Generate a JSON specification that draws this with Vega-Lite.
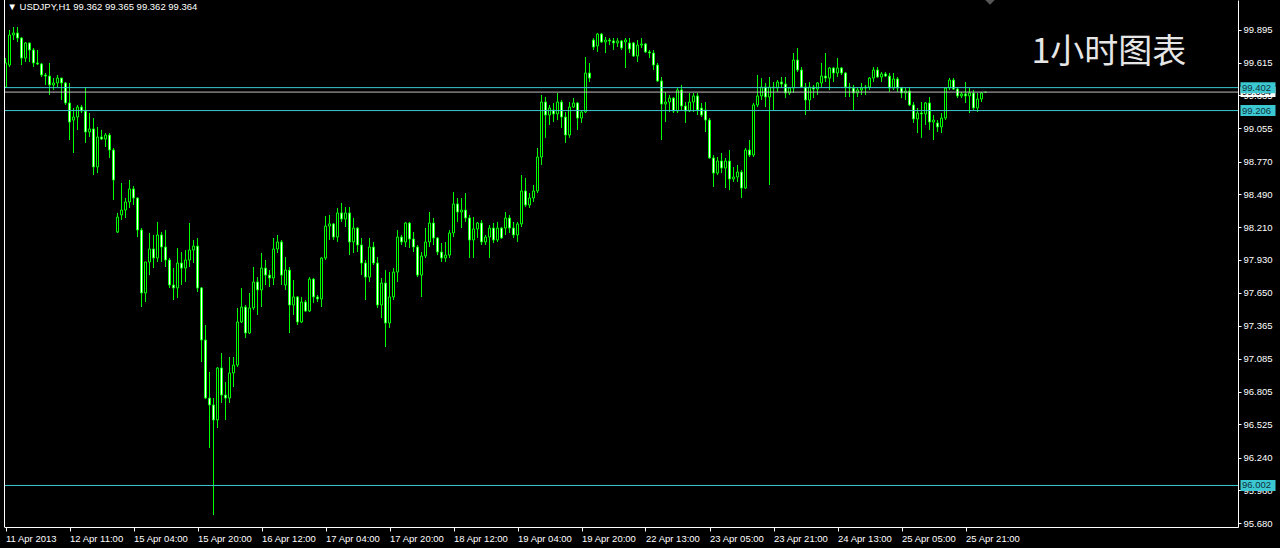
{
  "$schema": "https://vega.github.io/schema/vega-lite/v6.json",
  "width": 1234,
  "height": 527,
  "autosize": {"type": "none"},
  "padding": {"left": 4, "top": 0, "right": 42, "bottom": 21},
  "background": "#000000",
  "config": {"view": {"stroke": null}, "font": "Liberation Sans", "axis": {"labelOverlap": false}, "scale": {"continuousPadding": 0}},
  "datasets": {
    "candles": [
      {"i":0,"o":99.407,"h":99.655,"l":99.399,"c":99.613},
      {"i":1,"o":99.595,"h":99.895,"l":99.578,"c":99.852},
      {"i":2,"o":99.852,"h":99.920,"l":99.809,"c":99.869},
      {"i":3,"o":99.869,"h":99.920,"l":99.792,"c":99.826},
      {"i":4,"o":99.826,"h":99.835,"l":99.595,"c":99.655},
      {"i":5,"o":99.655,"h":99.792,"l":99.621,"c":99.784},
      {"i":6,"o":99.784,"h":99.784,"l":99.621,"c":99.724},
      {"i":7,"o":99.724,"h":99.741,"l":99.578,"c":99.613},
      {"i":8,"o":99.613,"h":99.724,"l":99.595,"c":99.604},
      {"i":9,"o":99.604,"h":99.613,"l":99.493,"c":99.510},
      {"i":10,"o":99.510,"h":99.527,"l":99.425,"c":99.501},
      {"i":11,"o":99.501,"h":99.613,"l":99.339,"c":99.425},
      {"i":12,"o":99.425,"h":99.484,"l":99.382,"c":99.442},
      {"i":13,"o":99.442,"h":99.510,"l":99.407,"c":99.484},
      {"i":14,"o":99.484,"h":99.484,"l":99.297,"c":99.442},
      {"i":15,"o":99.442,"h":99.450,"l":99.254,"c":99.271},
      {"i":16,"o":99.271,"h":99.442,"l":98.954,"c":99.108},
      {"i":17,"o":99.125,"h":99.228,"l":98.843,"c":99.151},
      {"i":18,"o":99.151,"h":99.254,"l":99.040,"c":99.236},
      {"i":19,"o":99.236,"h":99.254,"l":99.185,"c":99.202},
      {"i":20,"o":99.202,"h":99.407,"l":98.929,"c":99.023},
      {"i":21,"o":99.023,"h":99.185,"l":98.980,"c":99.049},
      {"i":22,"o":99.049,"h":99.142,"l":98.655,"c":98.724},
      {"i":23,"o":98.724,"h":99.066,"l":98.672,"c":98.980},
      {"i":24,"o":98.980,"h":99.040,"l":98.954,"c":98.963},
      {"i":25,"o":98.963,"h":99.014,"l":98.895,"c":98.997},
      {"i":26,"o":98.997,"h":99.014,"l":98.801,"c":98.869},
      {"i":27,"o":98.869,"h":98.886,"l":98.442,"c":98.613},
      {"i":28,"o":98.168,"h":98.331,"l":98.160,"c":98.296},
      {"i":29,"o":98.314,"h":98.587,"l":98.271,"c":98.356},
      {"i":30,"o":98.356,"h":98.459,"l":98.288,"c":98.425},
      {"i":31,"o":98.425,"h":98.613,"l":98.373,"c":98.536},
      {"i":32,"o":98.536,"h":98.561,"l":98.399,"c":98.459},
      {"i":33,"o":98.459,"h":98.465,"l":98.125,"c":98.185},
      {"i":34,"o":98.185,"h":98.202,"l":97.527,"c":97.647},
      {"i":35,"o":97.647,"h":97.912,"l":97.570,"c":97.912},
      {"i":36,"o":97.912,"h":98.160,"l":97.800,"c":98.023},
      {"i":37,"o":98.023,"h":98.143,"l":97.860,"c":97.946},
      {"i":38,"o":97.946,"h":98.254,"l":97.912,"c":98.143},
      {"i":39,"o":98.143,"h":98.168,"l":97.912,"c":98.040},
      {"i":40,"o":98.040,"h":98.185,"l":97.869,"c":97.929},
      {"i":41,"o":97.929,"h":97.946,"l":97.690,"c":97.715},
      {"i":42,"o":97.715,"h":97.860,"l":97.587,"c":97.690},
      {"i":43,"o":97.690,"h":98.031,"l":97.604,"c":97.903},
      {"i":44,"o":97.903,"h":97.997,"l":97.715,"c":97.860},
      {"i":45,"o":97.860,"h":98.014,"l":97.741,"c":97.929},
      {"i":46,"o":97.929,"h":98.245,"l":97.869,"c":98.014},
      {"i":47,"o":98.014,"h":98.100,"l":97.903,"c":98.048},
      {"i":48,"o":98.048,"h":98.117,"l":97.655,"c":97.690},
      {"i":49,"o":97.690,"h":97.698,"l":97.057,"c":97.245},
      {"i":50,"o":97.245,"h":97.373,"l":96.740,"c":96.749},
      {"i":51,"o":96.749,"h":96.972,"l":96.322,"c":96.690},
      {"i":52,"o":96.690,"h":96.749,"l":95.749,"c":96.562},
      {"i":53,"o":96.562,"h":97.014,"l":96.493,"c":97.006},
      {"i":54,"o":97.006,"h":97.134,"l":96.707,"c":96.775},
      {"i":55,"o":96.775,"h":96.886,"l":96.562,"c":96.749},
      {"i":56,"o":96.749,"h":97.100,"l":96.707,"c":96.963},
      {"i":57,"o":96.963,"h":97.100,"l":96.843,"c":97.031},
      {"i":58,"o":97.031,"h":97.519,"l":97.014,"c":97.399},
      {"i":59,"o":97.399,"h":97.690,"l":97.390,"c":97.527},
      {"i":60,"o":97.527,"h":97.544,"l":97.262,"c":97.305},
      {"i":61,"o":97.305,"h":97.647,"l":97.296,"c":97.519},
      {"i":62,"o":97.519,"h":97.869,"l":97.502,"c":97.741},
      {"i":63,"o":97.741,"h":97.783,"l":97.459,"c":97.673},
      {"i":64,"o":97.673,"h":97.989,"l":97.527,"c":97.860},
      {"i":65,"o":97.860,"h":97.929,"l":97.715,"c":97.800},
      {"i":66,"o":97.800,"h":97.843,"l":97.698,"c":97.775},
      {"i":67,"o":97.775,"h":98.117,"l":97.715,"c":98.023},
      {"i":68,"o":98.023,"h":98.143,"l":97.989,"c":98.083},
      {"i":69,"o":98.083,"h":98.100,"l":97.715,"c":97.800},
      {"i":70,"o":97.715,"h":97.954,"l":97.673,"c":97.843},
      {"i":71,"o":97.843,"h":97.869,"l":97.305,"c":97.544},
      {"i":72,"o":97.544,"h":97.758,"l":97.459,"c":97.613},
      {"i":73,"o":97.613,"h":97.620,"l":97.373,"c":97.399},
      {"i":74,"o":97.399,"h":97.613,"l":97.390,"c":97.570},
      {"i":75,"o":97.570,"h":97.587,"l":97.484,"c":97.493},
      {"i":76,"o":97.493,"h":97.783,"l":97.484,"c":97.766},
      {"i":77,"o":97.766,"h":97.775,"l":97.561,"c":97.613},
      {"i":78,"o":97.613,"h":97.630,"l":97.570,"c":97.596},
      {"i":79,"o":97.596,"h":97.954,"l":97.527,"c":97.946},
      {"i":80,"o":97.946,"h":98.305,"l":97.929,"c":98.219},
      {"i":81,"o":98.219,"h":98.314,"l":98.100,"c":98.237},
      {"i":82,"o":98.237,"h":98.245,"l":98.100,"c":98.125},
      {"i":83,"o":98.125,"h":98.373,"l":98.083,"c":98.331},
      {"i":84,"o":98.331,"h":98.416,"l":98.254,"c":98.279},
      {"i":85,"o":98.279,"h":98.382,"l":98.211,"c":98.331},
      {"i":86,"o":98.331,"h":98.382,"l":97.971,"c":98.083},
      {"i":87,"o":98.083,"h":98.288,"l":97.989,"c":98.202},
      {"i":88,"o":98.202,"h":98.211,"l":97.997,"c":98.057},
      {"i":89,"o":98.057,"h":98.117,"l":97.800,"c":97.903},
      {"i":90,"o":97.903,"h":97.929,"l":97.587,"c":97.783},
      {"i":91,"o":97.783,"h":98.117,"l":97.741,"c":98.040},
      {"i":92,"o":98.040,"h":98.083,"l":97.886,"c":97.903},
      {"i":93,"o":97.903,"h":97.954,"l":97.519,"c":97.544},
      {"i":94,"o":97.544,"h":97.775,"l":97.433,"c":97.732},
      {"i":95,"o":97.732,"h":97.843,"l":97.185,"c":97.390},
      {"i":96,"o":97.390,"h":97.826,"l":97.348,"c":97.613},
      {"i":97,"o":97.613,"h":97.860,"l":97.587,"c":97.826},
      {"i":98,"o":97.826,"h":98.185,"l":97.741,"c":98.125},
      {"i":99,"o":98.125,"h":98.143,"l":98.057,"c":98.083},
      {"i":100,"o":98.083,"h":98.254,"l":98.040,"c":98.245},
      {"i":101,"o":98.245,"h":98.254,"l":98.031,"c":98.108},
      {"i":102,"o":98.108,"h":98.168,"l":97.997,"c":98.040},
      {"i":103,"o":98.040,"h":98.057,"l":97.783,"c":97.800},
      {"i":104,"o":97.800,"h":97.997,"l":97.613,"c":97.963},
      {"i":105,"o":97.963,"h":98.202,"l":97.946,"c":98.083},
      {"i":106,"o":98.083,"h":98.339,"l":98.040,"c":98.245},
      {"i":107,"o":98.245,"h":98.288,"l":98.057,"c":98.117},
      {"i":108,"o":98.117,"h":98.125,"l":97.971,"c":97.997},
      {"i":109,"o":97.997,"h":98.074,"l":97.912,"c":97.946},
      {"i":110,"o":97.946,"h":98.083,"l":97.912,"c":97.971},
      {"i":111,"o":97.971,"h":98.185,"l":97.946,"c":98.160},
      {"i":112,"o":98.160,"h":98.510,"l":98.125,"c":98.408},
      {"i":113,"o":98.408,"h":98.459,"l":98.254,"c":98.339},
      {"i":114,"o":98.339,"h":98.459,"l":98.202,"c":98.356},
      {"i":115,"o":98.356,"h":98.501,"l":98.254,"c":98.288},
      {"i":116,"o":98.288,"h":98.314,"l":97.946,"c":98.100},
      {"i":117,"o":98.100,"h":98.296,"l":97.946,"c":98.194},
      {"i":118,"o":98.194,"h":98.254,"l":98.117,"c":98.245},
      {"i":119,"o":98.245,"h":98.271,"l":98.057,"c":98.083},
      {"i":120,"o":98.083,"h":98.143,"l":98.057,"c":98.125},
      {"i":121,"o":98.125,"h":98.228,"l":97.946,"c":98.202},
      {"i":122,"o":98.202,"h":98.245,"l":98.074,"c":98.100},
      {"i":123,"o":98.100,"h":98.254,"l":98.083,"c":98.202},
      {"i":124,"o":98.202,"h":98.211,"l":98.110,"c":98.117},
      {"i":125,"o":98.202,"h":98.339,"l":98.143,"c":98.288},
      {"i":126,"o":98.288,"h":98.314,"l":98.160,"c":98.202},
      {"i":127,"o":98.202,"h":98.254,"l":98.117,"c":98.143},
      {"i":128,"o":98.143,"h":98.254,"l":98.083,"c":98.237},
      {"i":129,"o":98.237,"h":98.655,"l":98.211,"c":98.519},
      {"i":130,"o":98.519,"h":98.630,"l":98.382,"c":98.399},
      {"i":131,"o":98.399,"h":98.501,"l":98.373,"c":98.459},
      {"i":132,"o":98.459,"h":98.570,"l":98.425,"c":98.519},
      {"i":133,"o":98.519,"h":98.886,"l":98.501,"c":98.809},
      {"i":134,"o":98.809,"h":99.339,"l":98.741,"c":99.279},
      {"i":135,"o":99.279,"h":99.322,"l":98.972,"c":99.168},
      {"i":136,"o":99.168,"h":99.254,"l":99.083,"c":99.228},
      {"i":137,"o":99.211,"h":99.271,"l":99.108,"c":99.177},
      {"i":138,"o":99.177,"h":99.356,"l":99.125,"c":99.279},
      {"i":139,"o":99.279,"h":99.297,"l":99.057,"c":99.151},
      {"i":140,"o":99.151,"h":99.194,"l":98.929,"c":98.997},
      {"i":141,"o":98.997,"h":99.279,"l":98.972,"c":99.236},
      {"i":142,"o":99.236,"h":99.313,"l":99.228,"c":99.271},
      {"i":143,"o":99.271,"h":99.279,"l":99.040,"c":99.142},
      {"i":144,"o":99.142,"h":99.211,"l":99.100,"c":99.194},
      {"i":145,"o":99.194,"h":99.664,"l":99.185,"c":99.527},
      {"i":146,"o":99.527,"h":99.613,"l":99.450,"c":99.484},
      {"i":147,"o":99.809,"h":99.826,"l":99.724,"c":99.749},
      {"i":148,"o":99.758,"h":99.869,"l":99.707,"c":99.860},
      {"i":149,"o":99.860,"h":99.869,"l":99.784,"c":99.792},
      {"i":150,"o":99.792,"h":99.835,"l":99.698,"c":99.809},
      {"i":151,"o":99.809,"h":99.826,"l":99.766,"c":99.801},
      {"i":152,"o":99.801,"h":99.826,"l":99.724,"c":99.784},
      {"i":153,"o":99.784,"h":99.826,"l":99.749,"c":99.801},
      {"i":154,"o":99.801,"h":99.809,"l":99.724,"c":99.741},
      {"i":155,"o":99.792,"h":99.826,"l":99.570,"c":99.809},
      {"i":156,"o":99.784,"h":99.826,"l":99.698,"c":99.732},
      {"i":157,"o":99.784,"h":99.792,"l":99.664,"c":99.672},
      {"i":158,"o":99.672,"h":99.809,"l":99.621,"c":99.766},
      {"i":159,"o":99.766,"h":99.826,"l":99.741,"c":99.775},
      {"i":160,"o":99.775,"h":99.784,"l":99.698,"c":99.707},
      {"i":161,"o":99.707,"h":99.724,"l":99.655,"c":99.698},
      {"i":162,"o":99.698,"h":99.724,"l":99.553,"c":99.595},
      {"i":163,"o":99.595,"h":99.613,"l":99.450,"c":99.459},
      {"i":164,"o":99.459,"h":99.493,"l":98.954,"c":99.262},
      {"i":165,"o":99.262,"h":99.365,"l":99.108,"c":99.279},
      {"i":166,"o":99.279,"h":99.339,"l":99.194,"c":99.313},
      {"i":167,"o":99.313,"h":99.322,"l":99.185,"c":99.202},
      {"i":168,"o":99.202,"h":99.399,"l":99.185,"c":99.382},
      {"i":169,"o":99.382,"h":99.425,"l":99.211,"c":99.245},
      {"i":170,"o":99.245,"h":99.279,"l":99.100,"c":99.202},
      {"i":171,"o":99.202,"h":99.356,"l":99.194,"c":99.279},
      {"i":172,"o":99.279,"h":99.356,"l":99.194,"c":99.331},
      {"i":173,"o":99.331,"h":99.356,"l":99.168,"c":99.211},
      {"i":174,"o":99.228,"h":99.271,"l":99.151,"c":99.168},
      {"i":175,"o":99.211,"h":99.279,"l":99.023,"c":99.125},
      {"i":176,"o":99.125,"h":99.142,"l":98.795,"c":98.801},
      {"i":177,"o":98.801,"h":98.826,"l":98.553,"c":98.672},
      {"i":178,"o":98.672,"h":98.809,"l":98.655,"c":98.775},
      {"i":179,"o":98.775,"h":98.843,"l":98.672,"c":98.715},
      {"i":180,"o":98.715,"h":98.801,"l":98.544,"c":98.775},
      {"i":181,"o":98.775,"h":98.869,"l":98.527,"c":98.621},
      {"i":182,"o":98.621,"h":98.724,"l":98.596,"c":98.638},
      {"i":183,"o":98.638,"h":98.741,"l":98.596,"c":98.681},
      {"i":184,"o":98.681,"h":98.698,"l":98.459,"c":98.544},
      {"i":185,"o":98.544,"h":98.886,"l":98.536,"c":98.869},
      {"i":186,"o":98.869,"h":98.954,"l":98.809,"c":98.826},
      {"i":187,"o":98.826,"h":99.271,"l":98.809,"c":99.254},
      {"i":188,"o":99.254,"h":99.510,"l":99.236,"c":99.331},
      {"i":189,"o":99.331,"h":99.484,"l":99.297,"c":99.407},
      {"i":190,"o":99.407,"h":99.442,"l":99.236,"c":99.322},
      {"i":191,"o":99.322,"h":99.493,"l":98.570,"c":99.407},
      {"i":192,"o":99.407,"h":99.450,"l":99.211,"c":99.399},
      {"i":193,"o":99.399,"h":99.467,"l":99.365,"c":99.450},
      {"i":194,"o":99.450,"h":99.493,"l":99.399,"c":99.433},
      {"i":195,"o":99.433,"h":99.493,"l":99.313,"c":99.356},
      {"i":196,"o":99.356,"h":99.407,"l":99.339,"c":99.399},
      {"i":197,"o":99.399,"h":99.698,"l":99.356,"c":99.638},
      {"i":198,"o":99.638,"h":99.741,"l":99.536,"c":99.553},
      {"i":199,"o":99.553,"h":99.578,"l":99.399,"c":99.407},
      {"i":200,"o":99.407,"h":99.442,"l":99.168,"c":99.297},
      {"i":201,"o":99.297,"h":99.450,"l":99.211,"c":99.407},
      {"i":202,"o":99.407,"h":99.425,"l":99.313,"c":99.390},
      {"i":203,"o":99.390,"h":99.450,"l":99.339,"c":99.442},
      {"i":204,"o":99.442,"h":99.613,"l":99.407,"c":99.501},
      {"i":205,"o":99.501,"h":99.698,"l":99.450,"c":99.484},
      {"i":206,"o":99.484,"h":99.578,"l":99.382,"c":99.570},
      {"i":207,"o":99.570,"h":99.578,"l":99.450,"c":99.527},
      {"i":208,"o":99.527,"h":99.655,"l":99.493,"c":99.570},
      {"i":209,"o":99.570,"h":99.578,"l":99.510,"c":99.527},
      {"i":210,"o":99.527,"h":99.536,"l":99.322,"c":99.407},
      {"i":211,"o":99.407,"h":99.442,"l":99.322,"c":99.399},
      {"i":212,"o":99.399,"h":99.425,"l":99.211,"c":99.356},
      {"i":213,"o":99.356,"h":99.407,"l":99.322,"c":99.382},
      {"i":214,"o":99.382,"h":99.442,"l":99.339,"c":99.399},
      {"i":215,"o":99.399,"h":99.425,"l":99.339,"c":99.407},
      {"i":216,"o":99.407,"h":99.493,"l":99.382,"c":99.484},
      {"i":217,"o":99.484,"h":99.578,"l":99.450,"c":99.553},
      {"i":218,"o":99.553,"h":99.578,"l":99.484,"c":99.493},
      {"i":219,"o":99.493,"h":99.536,"l":99.450,"c":99.519},
      {"i":220,"o":99.519,"h":99.536,"l":99.493,"c":99.501},
      {"i":221,"o":99.501,"h":99.527,"l":99.365,"c":99.399},
      {"i":222,"o":99.399,"h":99.527,"l":99.382,"c":99.476},
      {"i":223,"o":99.476,"h":99.493,"l":99.365,"c":99.399},
      {"i":224,"o":99.399,"h":99.407,"l":99.313,"c":99.356},
      {"i":225,"o":99.356,"h":99.399,"l":99.297,"c":99.373},
      {"i":226,"o":99.373,"h":99.407,"l":99.245,"c":99.254},
      {"i":227,"o":99.254,"h":99.279,"l":99.100,"c":99.134},
      {"i":228,"o":99.134,"h":99.228,"l":99.014,"c":99.185},
      {"i":229,"o":99.185,"h":99.279,"l":98.972,"c":99.177},
      {"i":230,"o":99.177,"h":99.279,"l":99.083,"c":99.271},
      {"i":231,"o":99.271,"h":99.322,"l":99.040,"c":99.108},
      {"i":232,"o":99.108,"h":99.168,"l":98.954,"c":99.125},
      {"i":233,"o":99.100,"h":99.125,"l":99.023,"c":99.066},
      {"i":234,"o":99.066,"h":99.185,"l":99.014,"c":99.142},
      {"i":235,"o":99.142,"h":99.405,"l":99.125,"c":99.399},
      {"i":236,"o":99.399,"h":99.484,"l":99.382,"c":99.467},
      {"i":237,"o":99.467,"h":99.484,"l":99.382,"c":99.390},
      {"i":238,"o":99.390,"h":99.407,"l":99.313,"c":99.331},
      {"i":239,"o":99.331,"h":99.365,"l":99.313,"c":99.348},
      {"i":240,"o":99.348,"h":99.450,"l":99.271,"c":99.331},
      {"i":241,"o":99.331,"h":99.399,"l":99.185,"c":99.356},
      {"i":242,"o":99.356,"h":99.382,"l":99.211,"c":99.228},
      {"i":243,"o":99.228,"h":99.356,"l":99.194,"c":99.305},
      {"i":244,"o":99.305,"h":99.365,"l":99.279,"c":99.356},
      {"i":245,"o":99.362,"h":99.365,"l":99.362,"c":99.364}
    ],
    "levels": [{"p": 99.402}, {"p": 99.206}, {"p": 96.002}],
    "bid": [{"p": 99.364}],
    "header": [{"t": "▼ USDJPY,H1  99.362 99.365 99.362 99.364"}],
    "note": [{"t": "1小时图表"}]
  },
  "layer": [
    {
      "data": {"name": "candles"},
      "mark": {"type": "rule", "color": "#00ff00", "strokeWidth": 1},
      "encoding": {
        "x": {
          "field": "i", "type": "quantitative", "title": null,
          "scale": {"domain": [-0.375, 308.125], "nice": false, "zero": false, "padding": 0},
          "axis": {
            "orient": "bottom", "values": [0,16,32,48,64,80,96,112,128,144,160,176,192,208,224,240], "tickCount": 40,
            "labelExpr": "['11 Apr 2013','12 Apr 11:00','15 Apr 04:00','15 Apr 20:00','16 Apr 12:00','17 Apr 04:00','17 Apr 20:00','18 Apr 12:00','19 Apr 04:00','19 Apr 20:00','22 Apr 13:00','23 Apr 05:00','23 Apr 21:00','24 Apr 13:00','25 Apr 05:00','25 Apr 21:00'][round(datum.value/16)]",
            "labelAlign": "left", "labelBaseline": "top", "labelPadding": 2, "labelFlush": false, "labelOverlap": false,
            "labelColor": "#ffffff", "labelFont": "Liberation Sans", "labelFontSize": 9.5,
            "tickColor": "#ffffff", "tickSize": 4, "domainColor": "#ffffff", "grid": false
          }
        },
        "y": {
          "field": "l", "type": "quantitative", "title": null,
          "scale": {"domain": [95.647, 100.151], "nice": false, "zero": false, "padding": 0},
          "axis": {
            "orient": "right",
            "values": [99.895, 99.615, 99.335, 99.055, 98.770, 98.490, 98.210, 97.930, 97.650, 97.365, 97.085, 96.805, 96.525, 96.240, 95.960, 95.680], "tickCount": 40,
            "format": ".3f", "labelPadding": 2, "labelFlush": false, "labelOverlap": false,
            "labelColor": "#ffffff", "labelFont": "Liberation Sans", "labelFontSize": 9.5,
            "tickColor": "#ffffff", "tickSize": 3, "domainColor": "#ffffff", "grid": false
          }
        },
        "y2": {"field": "h"}
      }
    },
    {
      "data": {"name": "candles"},
      "mark": {"type": "bar", "size": 2, "stroke": "#00ff00", "strokeWidth": 1},
      "encoding": {
        "x": {"field": "i", "type": "quantitative", "title": null},
        "y": {"field": "o", "type": "quantitative", "title": null},
        "y2": {"field": "c"},
        "fill": {"condition": {"test": "datum.c < datum.o", "value": "#ffffff"}, "value": "#000000"}
      }
    },
    {
      "data": {"name": "levels"},
      "mark": {"type": "rule", "color": "#3cc8d2", "strokeWidth": 1},
      "encoding": {"y": {"field": "p", "type": "quantitative", "title": null}}
    },
    {
      "data": {"name": "bid"},
      "mark": {"type": "rule", "color": "#c0c0c0", "strokeWidth": 1},
      "encoding": {"y": {"field": "p", "type": "quantitative", "title": null}}
    },
    {
      "data": {"name": "bid"},
      "mark": {"type": "rule", "color": "#ffffff", "strokeWidth": 1},
      "encoding": {"x": {"datum": -0.25, "type": "quantitative"}}
    },
    {
      "data": {"name": "bid"},
      "mark": {"type": "bar", "orient": "horizontal", "size": 10, "fill": "#ffffff", "clip": false},
      "encoding": {
        "x": {"datum": 308.75, "type": "quantitative"},
        "x2": {"datum": 317.5},
        "y": {"field": "p", "type": "quantitative", "title": null}
      }
    },
    {
      "data": {"name": "bid"},
      "mark": {"type": "text", "align": "left", "baseline": "middle", "color": "#000000", "font": "Liberation Sans", "fontSize": 9.5, "clip": false},
      "encoding": {
        "x": {"datum": 309.125, "type": "quantitative"},
        "y": {"field": "p", "type": "quantitative", "title": null},
        "text": {"field": "p", "format": ".3f"}
      }
    },
    {
      "data": {"name": "levels"},
      "mark": {"type": "bar", "orient": "horizontal", "size": 11, "fill": "#3cc8d2", "clip": false},
      "encoding": {
        "x": {"datum": 308.75, "type": "quantitative"},
        "x2": {"datum": 317.5},
        "y": {"field": "p", "type": "quantitative", "title": null}
      }
    },
    {
      "data": {"name": "levels"},
      "mark": {"type": "text", "align": "left", "baseline": "middle", "color": "#10303a", "font": "Liberation Sans", "fontSize": 9.5, "clip": false},
      "encoding": {
        "x": {"datum": 309.125, "type": "quantitative"},
        "y": {"field": "p", "type": "quantitative", "title": null},
        "text": {"field": "p", "format": ".3f"}
      }
    },
    {
      "data": {"name": "header"},
      "mark": {"type": "text", "align": "left", "baseline": "middle", "color": "#ffffff", "font": "Liberation Sans", "fontSize": 9.5},
      "encoding": {
        "x": {"datum": 0.5, "type": "quantitative"},
        "y": {"datum": 100.091, "type": "quantitative"},
        "text": {"field": "t"}
      }
    },
    {
      "data": {"name": "note"},
      "mark": {"type": "text", "align": "left", "baseline": "middle", "color": "#e6e6e6", "font": "Noto Sans CJK SC", "fontSize": 34},
      "encoding": {
        "x": {"datum": 256.5, "type": "quantitative"},
        "y": {"datum": 99.70, "type": "quantitative"},
        "text": {"field": "t"}
      }
    },
    {
      "data": {"name": "note"},
      "mark": {"type": "point", "shape": "diamond", "filled": true, "size": 90, "color": "#7a7a7a"},
      "encoding": {
        "x": {"datum": 246.125, "type": "quantitative"},
        "y": {"datum": 100.151, "type": "quantitative"}
      }
    }
  ]
}
